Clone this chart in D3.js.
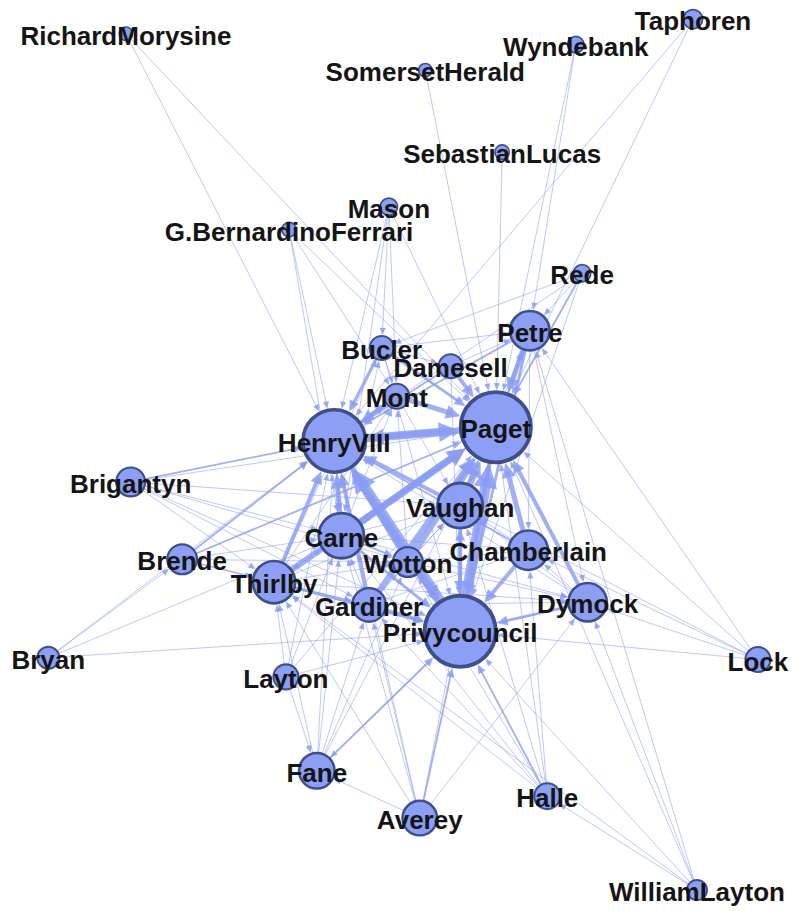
<!DOCTYPE html>
<html><head><meta charset="utf-8">
<script src="https://cdn.jsdelivr.net/npm/d3@7"></script>
<style>html,body{margin:0;padding:0;background:#fff;} svg{display:block;}</style>
</head><body>
<svg id="chart" width="792" height="911"></svg>
<script>
// ---- data ----
const nodeNames = ["RichardMorysine","SomersetHerald","Wyndebank","Taphoren","SebastianLucas","Mason",
  "G.BernardinoFerrari","Rede","Petre","Bucler","Damesell","Mont","HenryVIII","Paget","Brigantyn",
  "Vaughan","Carne","Chamberlain","Brende","Wotton","Thirlby","Dymock","Gardiner","Privycouncil",
  "Bryan","Lock","Layton","Fane","Halle","Averey","WilliamLayton"];
// layout coordinates (0-100 layout space)
const layoutX = [15.9,53.7,72.7,87.5,63.4,49.1,36.5,73.5,66.9,48.2,56.9,50.1,42.2,62.6,16.5,
  58.1,43.1,66.7,23.0,51.5,34.6,74.2,46.6,58.1,6.1,95.7,36.1,40.0,69.1,53.0,88.0];
const layoutY = [3.7,7.7,4.9,2.1,16.7,22.7,25.2,30.0,36.3,38.2,40.2,43.5,48.4,46.9,52.9,
  55.5,58.8,60.4,61.4,61.7,63.9,66.1,66.4,69.3,72.2,72.4,74.3,84.6,87.4,89.8,97.7];
// weighted degree (node size)
const weightedDegree = [4.0,4.0,5.8,7.8,4.6,6.4,4.6,6.4,31.4,12.0,12.0,13.0,77.4,97.4,17.1,
  41.0,41.0,31.4,18.2,18.2,36.0,29.9,23.0,100,10.2,13.0,13.0,25.7,13.9,24.3,8.6];
// directed weighted edges [source, target, weight]
const edges = [
  ["Privycouncil","Paget",10],["Privycouncil","HenryVIII",10],["HenryVIII","Paget",8],["Paget","HenryVIII",6],
  ["Paget","Privycouncil",4],["HenryVIII","Privycouncil",5],
  ["Carne","Paget",7],["Carne","HenryVIII",5],["Carne","Privycouncil",3],["Paget","Carne",2],["HenryVIII","Carne",2],
  ["Thirlby","Paget",6],["Thirlby","HenryVIII",4],["Thirlby","Privycouncil",3],["Paget","Thirlby",1],
  ["Wotton","Paget",6],["Wotton","HenryVIII",5],["Wotton","Privycouncil",3],["Privycouncil","Wotton",2],
  ["Gardiner","Paget",6],["Gardiner","HenryVIII",4],["Gardiner","Privycouncil",3],
  ["Vaughan","Paget",6],["Vaughan","HenryVIII",4],["Vaughan","Privycouncil",4],["Privycouncil","Vaughan",3],
  ["Chamberlain","Paget",5],["Chamberlain","Privycouncil",4],["Chamberlain","HenryVIII",2],
  ["Dymock","Paget",4],["Dymock","Privycouncil",3],["Dymock","HenryVIII",1],["Privycouncil","Dymock",1],
  ["Mont","Paget",5],["Mont","HenryVIII",4],["HenryVIII","Mont",3],
  ["Damesell","Paget",4],["Damesell","HenryVIII",2],["Damesell","Privycouncil",1],
  ["Bucler","Paget",3],["Bucler","HenryVIII",3],["Bucler","Privycouncil",1],
  ["Petre","Paget",5],["Petre","HenryVIII",2],["Petre","Privycouncil",3],["Paget","Petre",2],
  ["Carne","Vaughan",1],["Carne","Wotton",2],["Thirlby","Carne",1],["Gardiner","Carne",1],["Wotton","Vaughan",1],
  ["Chamberlain","Vaughan",1],["Dymock","Chamberlain",1],["Gardiner","Wotton",1],["Thirlby","Wotton",1],
  ["Thirlby","Gardiner",1],["Bucler","Mont",1],["Bucler","Petre",1],["Damesell","Petre",1],["Mont","Vaughan",1],
  ["Bucler","Damesell",1],["Petre","Chamberlain",1],["Petre","Vaughan",1],["Petre","Dymock",1],
  ["Chamberlain","Wotton",1],["Dymock","Vaughan",1],["Carne","Chamberlain",1],["Thirlby","Vaughan",1],
  ["Gardiner","Vaughan",1],["Gardiner","Chamberlain",1],["Carne","Mont",1],["Thirlby","Mont",1],
  ["Wotton","Mont",1],["Carne","Bucler",1],["Thirlby","Bucler",1],["Thirlby","Dymock",1],["Carne","Dymock",1],
  ["Gardiner","Dymock",1],["Wotton","Dymock",1],
  ["RichardMorysine","HenryVIII",1],["RichardMorysine","Paget",1],["SomersetHerald","Paget",1],
  ["Wyndebank","Paget",1],["Wyndebank","Petre",1],["Taphoren","HenryVIII",1],["Taphoren","Paget",1],
  ["SebastianLucas","Paget",1],
  ["Mason","HenryVIII",1],["Mason","Mont",1],["Mason","Paget",1],["Mason","Bucler",1],["Mason","Carne",1],
  ["G.BernardinoFerrari","HenryVIII",1],["G.BernardinoFerrari","Paget",1],["G.BernardinoFerrari","Mont",1],
  ["G.BernardinoFerrari","Carne",1],
  ["Rede","Paget",2],["Rede","Petre",1],["Rede","HenryVIII",1],["Rede","Bucler",1],["Rede","Privycouncil",1],
  ["Brigantyn","HenryVIII",2],["Brigantyn","Paget",1],["Brigantyn","Privycouncil",1],["Brigantyn","Wotton",1],
  ["Brigantyn","Carne",1],["Brigantyn","Gardiner",1],["Brigantyn","Thirlby",1],["Brigantyn","Vaughan",1],
  ["Brende","HenryVIII",2],["Brende","Paget",2],["Brende","Privycouncil",1],["Brende","Carne",1],
  ["Brende","Thirlby",1],["Brende","Wotton",1],["Brende","Gardiner",1],
  ["Bryan","Privycouncil",1],["Bryan","HenryVIII",1],["Bryan","Carne",1],["Bryan","Brende",1],
  ["Layton","Privycouncil",1],["Layton","Paget",1],["Layton","HenryVIII",1],["Layton","Thirlby",1],
  ["Layton","Carne",1],["Layton","Fane",1],
  ["Fane","Privycouncil",2],["Fane","Paget",1],["Fane","HenryVIII",1],["Fane","Thirlby",1],["Fane","Gardiner",1],
  ["Fane","Carne",1],["Privycouncil","Fane",1],["Fane","Wotton",1],
  ["Averey","Privycouncil",2],["Averey","Paget",1],["Averey","HenryVIII",1],["Averey","Thirlby",1],
  ["Averey","Carne",1],["Averey","Dymock",1],["Averey","Gardiner",1],["Averey","Fane",1],
  ["Halle","Privycouncil",2],["Halle","Paget",1],["Halle","HenryVIII",1],["Halle","Gardiner",1],
  ["Halle","Carne",1],["Halle","Vaughan",1],["Halle","Chamberlain",1],["Halle","Thirlby",1],
  ["Lock","Privycouncil",1],["Lock","Paget",1],["Lock","Dymock",1],["Lock","Chamberlain",1],
  ["Lock","Petre",1],["Lock","Vaughan",1],
  ["WilliamLayton","Halle",1],["WilliamLayton","Privycouncil",1],["WilliamLayton","Paget",1],
  ["WilliamLayton","Petre",1],["WilliamLayton","Thirlby",1],["WilliamLayton","Dymock",1]
];

// ---- drawing ----
const W = 792, H = 911;
const svg = d3.select("#chart");
svg.append("rect").attr("width", W).attr("height", H).attr("fill", "#fff");
const x = d3.scaleLinear().domain([0, 100]).range([0, W]);
const y = d3.scaleLinear().domain([0, 100]).range([0, H]);
const rScale = d3.scaleSqrt().domain([0, 100]).range([0, 37.5]);
const wScale = d3.scaleLinear().domain([1, 10]).range([0.7, 10.5]);

const nodes = nodeNames.map((n, i) => ({
  name: n, x: x(layoutX[i]), y: y(layoutY[i]), r: rScale(weightedDegree[i])
}));
const byName = new Map(nodes.map(d => [d.name, d]));
const links = edges.map(([s, t, w]) => ({ s: byName.get(s), t: byName.get(t), w }));

const edgeColor = "#8a9cf2";
const gE = svg.append("g");
links.forEach(l => {
  const sw = wScale(l.w);
  const dx = l.t.x - l.s.x, dy = l.t.y - l.s.y;
  const dist = Math.hypot(dx, dy);
  const ux = dx / dist, uy = dy / dist;
  const px = -uy, py = ux;
  const sx = l.s.x + ux * l.s.r * 0.9, sy = l.s.y + uy * l.s.r * 0.9;
  const tx = l.t.x - ux * l.t.r, ty = l.t.y - uy * l.t.r;
  const L = 6 + 1.7 * sw, Hh = 2.4 + 0.9 * sw;
  const bx = tx - ux * L, by = ty - uy * L;
  gE.append("line")
    .attr("x1", sx).attr("y1", sy)
    .attr("x2", tx - ux * L * 0.6).attr("y2", ty - uy * L * 0.6)
    .attr("stroke", edgeColor).attr("stroke-width", sw)
    .attr("stroke-opacity", 0.8);
  gE.append("path")
    .attr("d", `M${tx},${ty}L${bx + px * Hh},${by + py * Hh}L${bx - px * Hh},${by - py * Hh}Z`)
    .attr("fill", edgeColor).attr("fill-opacity", 0.85);
});

const gN = svg.append("g");
nodes.forEach(d => {
  const sw = 1 + d.r / 13;
  gN.append("circle")
    .attr("cx", d.x).attr("cy", d.y).attr("r", d.r - sw / 2)
    .attr("fill", "#8c9ff5").attr("stroke", "#3e4f8c").attr("stroke-width", sw);
});

const gL = svg.append("g");
nodes.forEach(d => {
  gL.append("text")
    .attr("x", d.x).attr("y", d.y + 11)
    .attr("text-anchor", "middle")
    .attr("font-family", "'Liberation Sans', Arial, Helvetica, sans-serif")
    .attr("font-weight", "bold").attr("font-size", 26)
    .attr("fill", "#151515")
    .text(d.name);
});
</script>
</body></html>
